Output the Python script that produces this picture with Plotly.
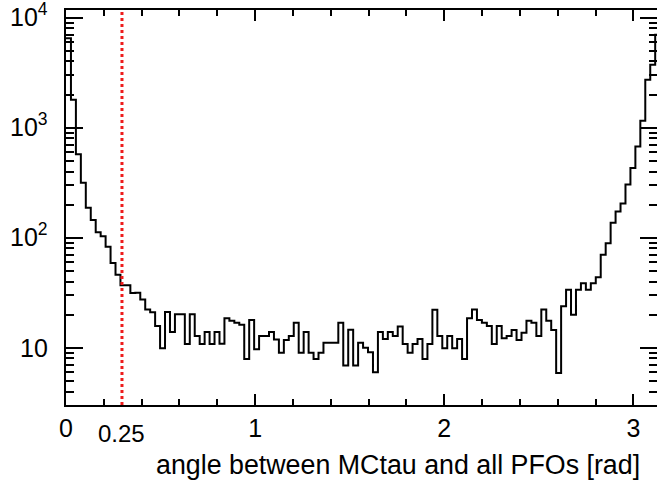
import numpy as np
import plotly.graph_objects as go

# histogram: 120 bins between 0 and pi
n_bins = 120
x_max = np.pi
counts = [
    6500, 1800, 575, 316, 187, 145, 112, 103, 83, 59,
    46, 37, 37, 31.5, 31.7, 27.5, 22.3, 21, 15.8, 9.9,
    21.2, 13.9, 20.2, 20.2, 10.8, 20.2, 12.8, 10.8, 13.9, 10.8,
    13.9, 10.9, 18.6, 17.6, 16.9, 16.2, 7.9, 17.9, 9.7, 12.8,
    12.8, 13.9, 11.9, 9.0, 11.8, 12.8, 16.9, 9.0, 13.9, 9.0,
    7.9, 9.0, 11.1, 11.1, 11.1, 16.9, 6.9, 14.6, 6.9, 11.1,
    10.0, 9.1, 6.0, 13.9, 12.0, 13.9, 12.8, 15.6, 10.8, 9.0,
    10.8, 12.0, 7.9, 10.8, 22.2, 12.8, 9.9, 12.8, 9.9, 12.0,
    7.9, 18.6, 22.3, 17.9, 16.9, 15.8, 10.8, 15.8, 12.2, 12.8,
    14.5, 11.8, 13.7, 17.6, 16.9, 12.8, 22.3, 17.6, 14.5, 5.9,
    23.9, 33.7, 20, 33.7, 38.6, 33.7, 38.6, 43.7, 70, 89,
    137, 173, 205, 305, 430, 675, 1160, 2730, 3740, 7000,
]

cut_value = 0.296
cut_label = "0.25"
x_title = "angle between MCtau and all PFOs [rad]"

x_tickvals = [0, 1, 2, 3]
y_tickvals = [10, 100, 1000, 10000]
y_ticktext = ["10", "10<sup>2</sup>", "10<sup>3</sup>", "10<sup>4</sup>"]
y_minor = [m * 10 ** k for k in range(0, 4) for m in range(2, 10)]

edges = np.linspace(0, x_max, n_bins + 1)
xs = list(edges)
ys = counts + [counts[-1]]

font = "Liberation Sans, Arial, sans-serif"

fig = go.Figure()
fig.add_trace(go.Scatter(
    x=xs, y=ys, mode="lines", line=dict(color="black", width=2, shape="hv"),
    showlegend=False, hoverinfo="skip",
))

fig.add_shape(type="line", x0=cut_value, x1=cut_value, xref="x", yref="paper",
              y0=0, y1=1, line=dict(color="#ee1c1c", width=3, dash="3px,3px"))

# y tick labels as annotations so the top one is not dropped
for v, t in zip(y_tickvals, y_ticktext):
    fig.add_annotation(text=t, x=0, xref="paper", y=np.log10(v), yref="y",
                       xanchor="right", yanchor="middle", xshift=-16, yshift=3 if v > 10 else 0,
                       showarrow=False, font=dict(size=25, color="black", family=font))

fig.add_annotation(text=cut_label, x=cut_value, xref="x", y=-0.072, yref="paper",
                   showarrow=False, font=dict(size=24, color="black", family=font),
                   yanchor="middle")
fig.add_annotation(text=x_title, x=0.975, xref="paper", y=-0.152, yref="paper",
                   xanchor="right", yanchor="middle", showarrow=False,
                   font=dict(size=26.8, color="black", family=font))

fig.update_xaxes(
    range=[0, 3.125], showline=True, linewidth=2, linecolor="black", mirror="allticks",
    ticks="inside", ticklen=11, tickwidth=2, tickcolor="black",
    tickvals=x_tickvals, ticktext=[str(v) for v in x_tickvals],
    tickfont=dict(size=25, family=font, color="black"),
    minor=dict(ticks="inside", ticklen=6, tickwidth=1.5, tickcolor="black", dtick=0.2),
    showgrid=False, zeroline=False, automargin=False,
)
fig.update_yaxes(
    type="log", range=[0.48, 4.07], showline=True, linewidth=2, linecolor="black",
    mirror="allticks", ticks="inside", ticklen=17, tickwidth=2, tickcolor="black",
    tickvals=y_tickvals, showticklabels=False,
    minor=dict(ticks="inside", ticklen=8, tickwidth=2, tickcolor="black", tickvals=y_minor),
    showgrid=False, zeroline=False, automargin=False,
)

fig.update_layout(
    width=657, height=483,
    margin=dict(l=66, r=0, t=10, b=78),
    plot_bgcolor="white", paper_bgcolor="white",
)

# drop the default body margin so the figure sits at the window corner
fig.write_html("out.html", config={"displayModeBar": False},
               post_script="document.body.style.margin='0px';")
